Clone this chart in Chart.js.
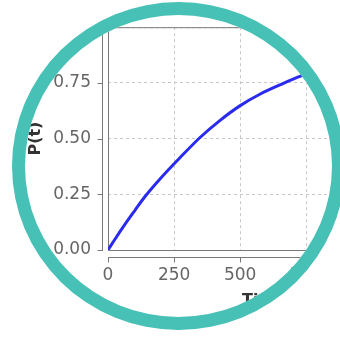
<!DOCTYPE html>
<html>
<head>
<meta charset="utf-8">
<script src="https://cdn.jsdelivr.net/npm/chart.js@4"></script>
<style>
  html, body { margin: 0; padding: 0; background: #fff; overflow: hidden; }
  body { width: 340px; height: 337px; position: relative; }
  #ring {
    position: absolute; left: 12px; top: 2px;
    width: 333px; height: 328px; box-sizing: border-box;
    border: 13px solid #47c0b6; border-radius: 50%;
    overflow: hidden; background: #fff;
  }
  #holder { position: absolute; left: -25px; top: -15px; width: 460px; height: 340px; }
</style>
</head>
<body>
<div id="ring">
  <div id="holder"><canvas id="pChart" width="460" height="340"></canvas></div>
</div>
<script>
// values
const timeValues = [0, 30, 64, 100, 140, 190, 273, 348, 424, 500, 576, 652, 720, 800, 900];
const probValues = [0, 0.055, 0.115, 0.175, 0.24, 0.31, 0.415, 0.505, 0.582, 0.648, 0.70, 0.742, 0.777, 0.81, 0.85];
const yTicks = [0, 0.25, 0.5, 0.75, 1];
const xTicks = [0, 250, 500, 750, 1000];

const points = timeValues.map((t, i) => ({x: t, y: probValues[i]}));

const framePlugin = {
    id: "frame",
    beforeDatasetsDraw(chart) {
        const ctx = chart.ctx;
        const a = chart.chartArea;
        const sx = chart.scales.x, sy = chart.scales.y;
        ctx.save();
        ctx.strokeStyle = "#7a7a7a";
        ctx.lineWidth = 1;
        ctx.strokeRect(a.left + 0.5, a.top + 0.5, a.right - a.left, a.bottom - a.top);
        // axis lines sit a little away from the plot, like JFreeChart
        const ax = a.left - 5.5, ay = a.bottom + 7.5;
        ctx.beginPath();
        ctx.moveTo(ax, a.top); ctx.lineTo(ax, a.bottom + 1);
        sy.ticks.forEach(t => {
            const py = Math.round(sy.getPixelForValue(t.value)) + 0.5;
            ctx.moveTo(ax - 5, py); ctx.lineTo(ax, py);
        });
        ctx.moveTo(a.left, ay); ctx.lineTo(a.right, ay);
        sx.ticks.forEach(t => {
            const px = Math.round(sx.getPixelForValue(t.value)) + 0.5;
            ctx.moveTo(px, ay); ctx.lineTo(px, ay + 5);
        });
        ctx.stroke();
        ctx.restore();
    }
};

let ctx = document.getElementById("pChart").getContext("2d");

new Chart(ctx, {
    type: "line",
    data: {
        datasets: [{
            data: points,
            borderColor: "#2b2bf0",
            borderWidth: 3,
            pointRadius: 0,
            fill: false,
            cubicInterpolationMode: "monotone"
        }]
    },
    options: {
        responsive: false,
        animation: false,
        devicePixelRatio: 1,
        layout: {padding: {top: 23, right: 40, left: 0, bottom: 0}},
        plugins: {legend: {display: false}, tooltip: {enabled: false}},
        scales: {
            x: {
                type: "linear",
                min: 0,
                max: 1180,
                afterBuildTicks: s => { s.ticks = xTicks.map(v => ({value: v})); },
                afterFit: s => { s.height = 90; },
                border: {display: false, dash: [3, 3]},
                grid: {color: "#c8c8c8", drawTicks: false},
                ticks: {
                    padding: 15,
                    color: "#666",
                    font: {family: "DejaVu Sans", size: 17},
                    callback: v => String(v)
                },
                title: {
                    display: true,
                    text: "Time",
                    color: "#333",
                    font: {family: "DejaVu Sans", size: 16, weight: "bold"},
                    padding: {top: 0, bottom: 30}
                }
            },
            y: {
                min: 0,
                max: 1,
                afterBuildTicks: s => { s.ticks = yTicks.map(v => ({value: v})); },
                afterFit: s => { s.width = 108; },
                border: {display: false, dash: [3, 3]},
                grid: {color: "#c8c8c8", drawTicks: false},
                ticks: {
                    padding: 17,
                    color: "#666",
                    font: {family: "DejaVu Sans", size: 17},
                    callback: v => v.toFixed(2)
                },
                title: {
                    display: true,
                    text: "P(t)",
                    color: "#333",
                    font: {family: "DejaVu Sans", size: 16, weight: "bold"},
                    padding: {top: 26, bottom: 0}
                }
            }
        }
    },
    plugins: [framePlugin]
});
</script>
</body>
</html>
